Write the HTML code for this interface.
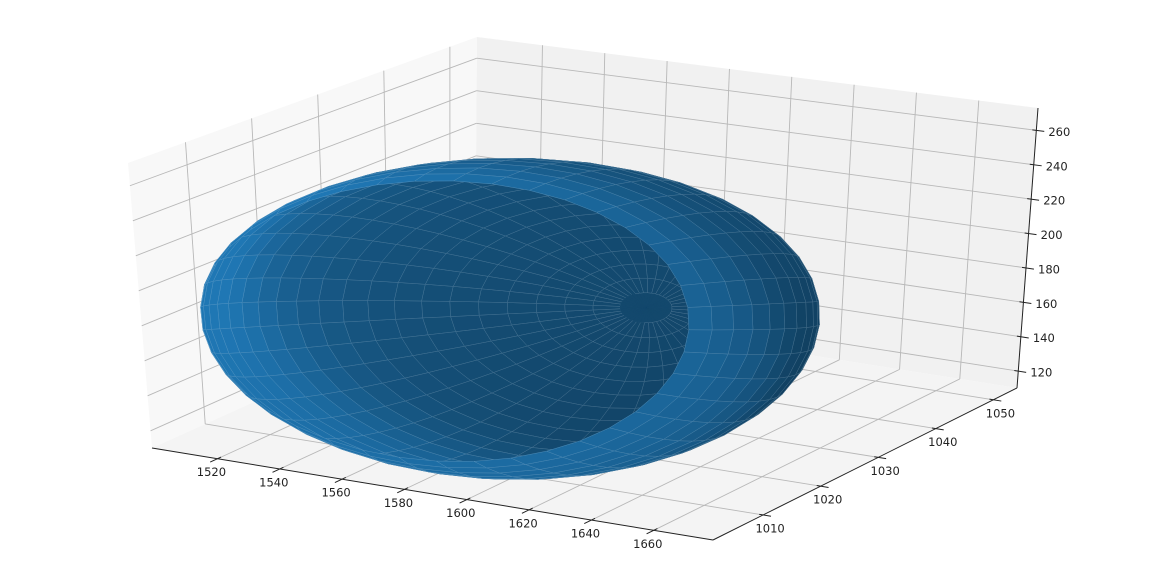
<!DOCTYPE html>
<html><head><meta charset="utf-8"><title>3D ellipsoid surface</title>
<style>
html,body{margin:0;padding:0;background:#fff;}
svg{display:block;}
text{font-family:"DejaVu Sans","Liberation Sans",sans-serif;font-size:11.5px;fill:#222;}
</style></head>
<body>
<svg id="chart" width="1152" height="576" viewBox="0 0 1152 576" xmlns="http://www.w3.org/2000/svg">
<g id="panes"></g>
<g id="grid"></g>
<g id="axes"></g>
<g id="surface"></g>
<g id="labels"></g>
</svg>
<script>
// ---- data ----
const xTicks = [1520, 1540, 1560, 1580, 1600, 1620, 1640, 1660];
const yTicks = [1010, 1020, 1030, 1040, 1050];
const zTicks = [120, 140, 160, 180, 200, 220, 240, 260];
const xLim = [1499, 1679];
const yLim = [1001.3, 1054.1];
const zLim = [110.2, 273];
const shellCenter = [1590, 1014.5, 190];
const shellRadii = [85, 25, 80];
const capOffset = [0.5];
const capTiltDeg = [26, 5];
const meshCounts = [40, 22];

// ---- projection (screen corners of the 3D box) ----
const K = {
  "000":[152,448], "001":[128,163], "010":[475,302], "011":[477,37],
  "100":[713,540], "101":[721,240], "110":[1017,388], "111":[1038,108]
};
function projN(u,v,w){
  let X=0,Y=0;
  for(const a of [0,1])for(const b of [0,1])for(const c of [0,1]){
    const wt=(a?u:1-u)*(b?v:1-v)*(c?w:1-w);
    const p=K[""+a+b+c]; X+=wt*p[0]; Y+=wt*p[1];
  }
  return [X,Y];
}
const nx = x => (x-xLim[0])/(xLim[1]-xLim[0]);
const ny = y => (y-yLim[0])/(yLim[1]-yLim[0]);
const nz = z => (z-zLim[0])/(zLim[1]-zLim[0]);

const NS="http://www.w3.org/2000/svg";
function mk(tag, attrs, parent){
  const e=document.createElementNS(NS,tag);
  for(const k in attrs) e.setAttribute(k,attrs[k]);
  parent.appendChild(e); return e;
}
const pts = a => a.map(p=>p[0].toFixed(1)+","+p[1].toFixed(1)).join(" ");

// ---- panes ----
const gP=document.getElementById("panes");
let e;
e=mk("polygon",{points:pts([K["000"],K["001"],K["011"],K["010"]]),fill:"#f8f8f8"},gP);


e=mk("polygon",{points:pts([K["010"],K["011"],K["111"],K["110"]]),fill:"#f1f1f1"},gP);


e=mk("polygon",{points:pts([K["000"],K["100"],K["110"],K["010"]]),fill:"#f4f4f4"},gP);



// ---- grid ----
const gG=document.getElementById("grid");
function gl(a,b,name){
  const l=mk("line",{x1:a[0],y1:a[1],x2:b[0],y2:b[1],stroke:"#b8b8b8","stroke-width":0.9},gG);
  
  
}
xTicks.forEach(x=>{
  gl(projN(nx(x),0,0),projN(nx(x),1,0),"floor-grid-x");
  gl(projN(nx(x),1,0),projN(nx(x),1,1),"back-grid-x");
});
yTicks.forEach(y=>{
  gl(projN(0,ny(y),0),projN(1,ny(y),0),"floor-grid-y");
  gl(projN(0,ny(y),0),projN(0,ny(y),1),"left-grid-y");
});
zTicks.forEach(z=>{
  gl(projN(0,0,nz(z)),projN(0,1,nz(z)),"left-grid-z");
  gl(projN(0,1,nz(z)),projN(1,1,nz(z)),"back-grid-z");
});

// ---- axes & ticks ----
const gA=document.getElementById("axes");
function al(a,b,name,w){
  const l=mk("line",{x1:a[0],y1:a[1],x2:b[0],y2:b[1],stroke:"#222","stroke-width":w},gA);
  
  
}
al(K["000"],K["100"],"x-axis-line",1);
al(K["100"],K["110"],"y-axis-line",1);
al(K["110"],K["111"],"z-axis-line",1);
function tick(p,q,name){
  const dx=q[0]-p[0],dy=q[1]-p[1],L=Math.hypot(dx,dy);
  const ux=dx/L,uy=dy/L;
  al([p[0]+ux*4,p[1]+uy*4],[p[0]-ux*8,p[1]-uy*8],name,1);
}
const gL=document.getElementById("labels");
function lab(p,txt,anchor,name){
  const t=mk("text",{x:p[0].toFixed(1),y:p[1].toFixed(1),"text-anchor":anchor,"dominant-baseline":"middle"},gL);
  t.textContent=txt;
  
  
}
xTicks.forEach(x=>{
  const p=projN(nx(x),0,0), q=projN(nx(x),1,0);
  tick(p,q,"x-tick");
  lab([p[0]-6,p[1]+14],String(x),"middle","x-tick-label");
});
yTicks.forEach(y=>{
  const p=projN(1,ny(y),0), q=projN(0,ny(y),0);
  tick(p,q,"y-tick");
  lab([p[0]+7,p[1]+14],String(y),"middle","y-tick-label");
});
zTicks.forEach(z=>{
  const p=projN(1,1,nz(z)), q=projN(0,1,nz(z));
  tick(p,q,"z-tick");
  lab([p[0]+23,p[1]+2],String(z),"middle","z-tick-label");
});

// ---- surface ----
const rng=[xLim[1]-xLim[0], yLim[1]-yLim[0], zLim[1]-zLim[0]];
const lo=[xLim[0],yLim[0],zLim[0]];
const cN=[nx(shellCenter[0]),ny(shellCenter[1]),nz(shellCenter[2])];
const h=1e-3;
const P0=projN(...cN);
const Ju=projN(cN[0]+h,cN[1],cN[2]), Jv=projN(cN[0],cN[1]+h,cN[2]), Jw=projN(cN[0],cN[1],cN[2]+h);
const rowX=[(Ju[0]-P0[0])/h,(Jv[0]-P0[0])/h,(Jw[0]-P0[0])/h];
const rowY=[(Ju[1]-P0[1])/h,(Jv[1]-P0[1])/h,(Jw[1]-P0[1])/h];
const cross=(a,b)=>[a[1]*b[2]-a[2]*b[1],a[2]*b[0]-a[0]*b[2],a[0]*b[1]-a[1]*b[0]];
const dot=(a,b)=>a[0]*b[0]+a[1]*b[1]+a[2]*b[2];
const nrm=a=>{const l=Math.hypot(...a);return a.map(v=>v/l);};
let view=cross(rowX,rowY); if(view[2]<0) view=view.map(v=>-v);
view=nrm(view);
const sc=[0,1,2].map(i=>shellRadii[i]/rng[i]);
const vs=nrm(view.map((v,i)=>v*sc[i]));
function orth(vec){const d=dot(vec,vs);return nrm(vec.map((v,i)=>v-d*vs[i]));}
const left=orth(rowX.map((v,i)=>-v*sc[i]));
const down=orth(rowY.map((v,i)=>v*sc[i]));
const tA=Math.tan(capTiltDeg[0]*Math.PI/180), tB=Math.tan(capTiltDeg[1]*Math.PI/180);
const m=nrm(vs.map((v,i)=>v+tA*left[i]+tB*down[i]));
let e1=nrm(cross(m,[0,0,1])); const e2=nrm(cross(m,e1));
const NU=meshCounts[0], NV=meshCounts[1];
const vmax=Math.acos(-capOffset[0]);
const Lt=[-0.667,-0.667,0.333];
function sPt(v,u){
  const cv=Math.cos(v), sv=Math.sin(v);
  return [0,1,2].map(i=>-cv*m[i]+sv*(Math.cos(u)*e1[i]+Math.sin(u)*e2[i]));
}
const faces=[];
for(let j=0;j<NV;j++){
  for(let i=0;i<NU;i++){
    const vv=[j*vmax/NV,(j+1)*vmax/NV], uu=[i*2*Math.PI/NU,(i+1)*2*Math.PI/NU];
    const ss=[sPt(vv[0],uu[0]),sPt(vv[0],uu[1]),sPt(vv[1],uu[1]),sPt(vv[1],uu[0])];
    const nP=ss.map(s=>[0,1,2].map(k=>(shellCenter[k]+shellRadii[k]*s[k]-lo[k])/rng[k]));
    const scr=nP.map(p=>projN(...p));
    const cen=[0,1,2].map(k=>(nP[0][k]+nP[1][k]+nP[2][k]+nP[3][k])/4);
    const sm=[0,1,2].map(k=>(ss[0][k]+ss[1][k]+ss[2][k]+ss[3][k])/4);
    const g=nrm(sm.map((v,k)=>v/shellRadii[k]));
    const shade=dot(g,Lt);
    const f=Math.min(1,0.78+0.25*shade);
    faces.push({scr,depth:dot(cen,view),f,ring:j});
  }
}
faces.sort((a,b)=>a.depth-b.depth);
const gS=document.getElementById("surface");
faces.forEach(fc=>{
  const r=Math.round(31*fc.f), gg=Math.round(119*fc.f), b=Math.round(180*fc.f);
  const col=`rgb(${r},${gg},${b})`;
  const p=mk("polygon",{points:pts(fc.scr),fill:col,stroke:col,"stroke-width":0.6},gS);
  
  
  if(fc.ring>=1){
    const q=mk("polygon",{points:pts(fc.scr),fill:"none",stroke:"rgba(200,215,230,0.3)","stroke-width":0.5},gS);
    
    
  }
});
</script>
</body></html>
